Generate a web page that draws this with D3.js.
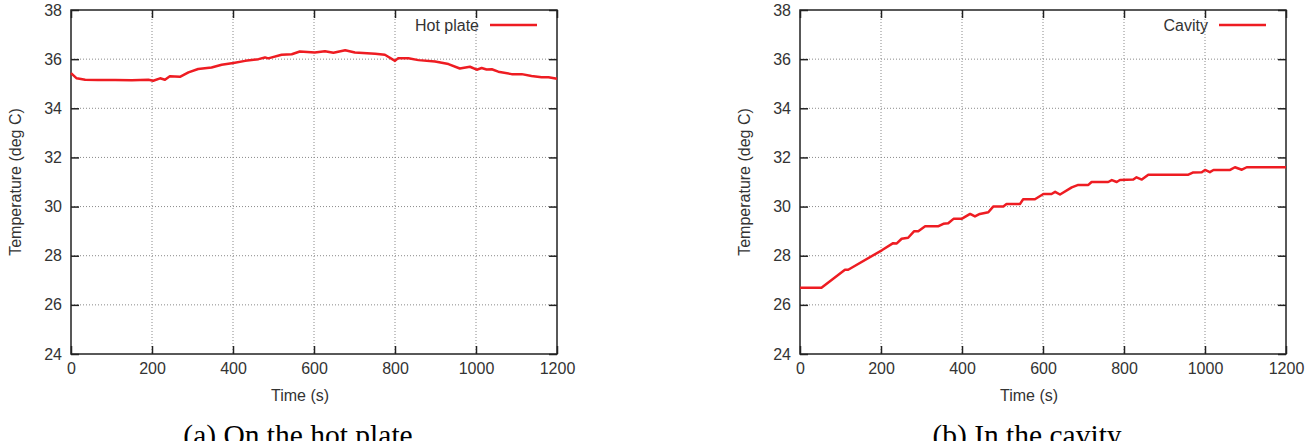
<!DOCTYPE html>
<html>
<head>
  <meta charset="utf-8">
  <title></title>
  <script src="https://cdnjs.cloudflare.com/ajax/libs/d3/7.8.5/d3.min.js"></script>
  <style>
    body { margin: 0; background: #fff; }
    text { font-family: "Liberation Sans", Arial, sans-serif; }
  </style>
</head>
<body>
<script>
// values
const hotTime = [0, 14, 35, 67, 109, 150, 191, 203, 220, 232, 244, 269, 290, 314, 347, 372, 401, 430, 463, 479, 487, 520, 545, 565, 602, 627, 648, 677, 701, 751, 775, 800, 808, 833, 858, 899, 932, 960, 985, 1002, 1014, 1026, 1039, 1055, 1088, 1113, 1137, 1162, 1179, 1200];
const hotTemp = [35.43, 35.22, 35.16, 35.15, 35.15, 35.14, 35.16, 35.12, 35.22, 35.16, 35.3, 35.28, 35.46, 35.6, 35.66, 35.77, 35.84, 35.93, 36.0, 36.07, 36.03, 36.18, 36.2, 36.31, 36.27, 36.32, 36.26, 36.36, 36.27, 36.22, 36.18, 35.93, 36.04, 36.04, 35.96, 35.9, 35.8, 35.62, 35.69, 35.57, 35.64, 35.58, 35.59, 35.49, 35.39, 35.39, 35.31, 35.26, 35.26, 35.2];

const cavTime = [0, 53, 111, 119, 202, 230, 239, 251, 267, 282, 292, 309, 342, 354, 366, 379, 399, 420, 432, 444, 465, 477, 502, 510, 543, 551, 580, 601, 621, 630, 642, 671, 687, 712, 720, 761, 770, 782, 790, 823, 831, 844, 860, 959, 971, 992, 1000, 1012, 1021, 1062, 1074, 1091, 1103, 1200];
const cavTemp = [26.7, 26.7, 27.43, 27.43, 28.22, 28.51, 28.5, 28.69, 28.73, 29.0, 29.0, 29.2, 29.2, 29.3, 29.32, 29.5, 29.5, 29.7, 29.6, 29.7, 29.77, 30.0, 30.0, 30.1, 30.1, 30.3, 30.3, 30.51, 30.51, 30.6, 30.49, 30.78, 30.88, 30.88, 31.0, 31.0, 31.08, 31.0, 31.08, 31.1, 31.19, 31.1, 31.3, 31.3, 31.39, 31.4, 31.49, 31.4, 31.49, 31.49, 31.6, 31.5, 31.6, 31.6];

const xTicks = [0, 200, 400, 600, 800, 1000, 1200];
const yTicks = [24, 26, 28, 30, 32, 34, 36, 38];

const panels = [
  {left: 71, time: hotTime, temp: hotTemp, key: 'Hot plate', caption: '(a) On the hot plate'},
  {left: 800, time: cavTime, temp: cavTemp, key: 'Cavity', caption: '(b) In the cavity'}
];

const width = 1305, height = 441;
const plotTop = 10, w = 486, h = 344;

const svg = d3.select('body').append('svg')
  .attr('width', width)
  .attr('height', height);

const x = d3.scaleLinear().domain([0, 1200]).range([0, w]);
const y = d3.scaleLinear().domain([24, 38]).range([h, 0]);

panels.forEach(p => {
  const g = svg.append('g').attr('transform', `translate(${p.left},${plotTop})`);

  // dotted grid, only inside the frame
  g.append('g').selectAll('line')
    .data(xTicks.slice(1, -1)).enter()
    .append('line')
    .attr('x1', d => x(d)).attr('x2', d => x(d))
    .attr('y1', 0).attr('y2', h)
    .attr('stroke', '#8a8a8a').attr('stroke-width', 1)
    .attr('stroke-dasharray', '1,2');
  g.append('g').selectAll('line')
    .data(yTicks.slice(1, -1)).enter()
    .append('line')
    .attr('y1', d => y(d)).attr('y2', d => y(d))
    .attr('x1', 0).attr('x2', w)
    .attr('stroke', '#8a8a8a').attr('stroke-width', 1)
    .attr('stroke-dasharray', '1,2');

  // axes, ticks pointing in, mirrored on top and right
  const axes = [
    {ax: d3.axisBottom(x).tickValues(xTicks), t: `translate(0,${h})`, lab: true},
    {ax: d3.axisTop(x).tickValues(xTicks), t: 'translate(0,0)', lab: false},
    {ax: d3.axisLeft(y).tickValues(yTicks), t: 'translate(0,0)', lab: true},
    {ax: d3.axisRight(y).tickValues(yTicks), t: `translate(${w},0)`, lab: false}
  ];
  axes.forEach(a => {
    const ag = g.append('g')
      .attr('transform', a.t)
      .call(a.ax.tickSizeInner(-8).tickSizeOuter(0).tickPadding(9).tickFormat(d3.format('d')));
    ag.select('.domain').remove();
    ag.selectAll('line').attr('stroke', '#222').attr('stroke-width', 1.5);
    ag.selectAll('text')
      .attr('font-size', 16)
      .attr('fill', '#333')
      .attr('font-family', '"Liberation Sans", Arial, sans-serif');
    if (!a.lab) ag.selectAll('text').remove();
  });

  // frame
  g.append('rect')
    .attr('width', w).attr('height', h)
    .attr('fill', 'none')
    .attr('stroke', '#222').attr('stroke-width', 1.5);

  // data line
  g.append('path')
    .datum(d3.zip(p.time, p.temp))
    .attr('fill', 'none')
    .attr('stroke', '#ee1c22')
    .attr('stroke-width', 2.5)
    .attr('stroke-linejoin', 'round')
    .attr('d', d3.line().x(d => x(d[0])).y(d => y(d[1])));

  // key
  g.append('text')
    .attr('x', 408).attr('y', 21)
    .attr('text-anchor', 'end')
    .attr('font-size', 16).attr('fill', '#333')
    .text(p.key);
  g.append('line')
    .attr('x1', 419).attr('x2', 466)
    .attr('y1', 15).attr('y2', 15)
    .attr('stroke', '#ee1c22').attr('stroke-width', 2.5);

  // axis titles
  g.append('text')
    .attr('x', w / 2 - 14).attr('y', h + 47)
    .attr('text-anchor', 'middle')
    .attr('font-size', 16).attr('fill', '#333')
    .text('Time (s)');
  g.append('text')
    .attr('transform', `translate(-50,${h / 2}) rotate(-90)`)
    .attr('text-anchor', 'middle')
    .attr('font-size', 16).attr('fill', '#333')
    .text('Temperature (deg C)');

  // caption
  g.append('text')
    .attr('x', w / 2 - 16).attr('y', h + 91)
    .attr('text-anchor', 'middle')
    .attr('font-size', 29.5).attr('fill', '#000')
    .style('font-family', '"Liberation Serif", "Times New Roman", serif')
    .text(p.caption);
});
</script>
</body>
</html>
